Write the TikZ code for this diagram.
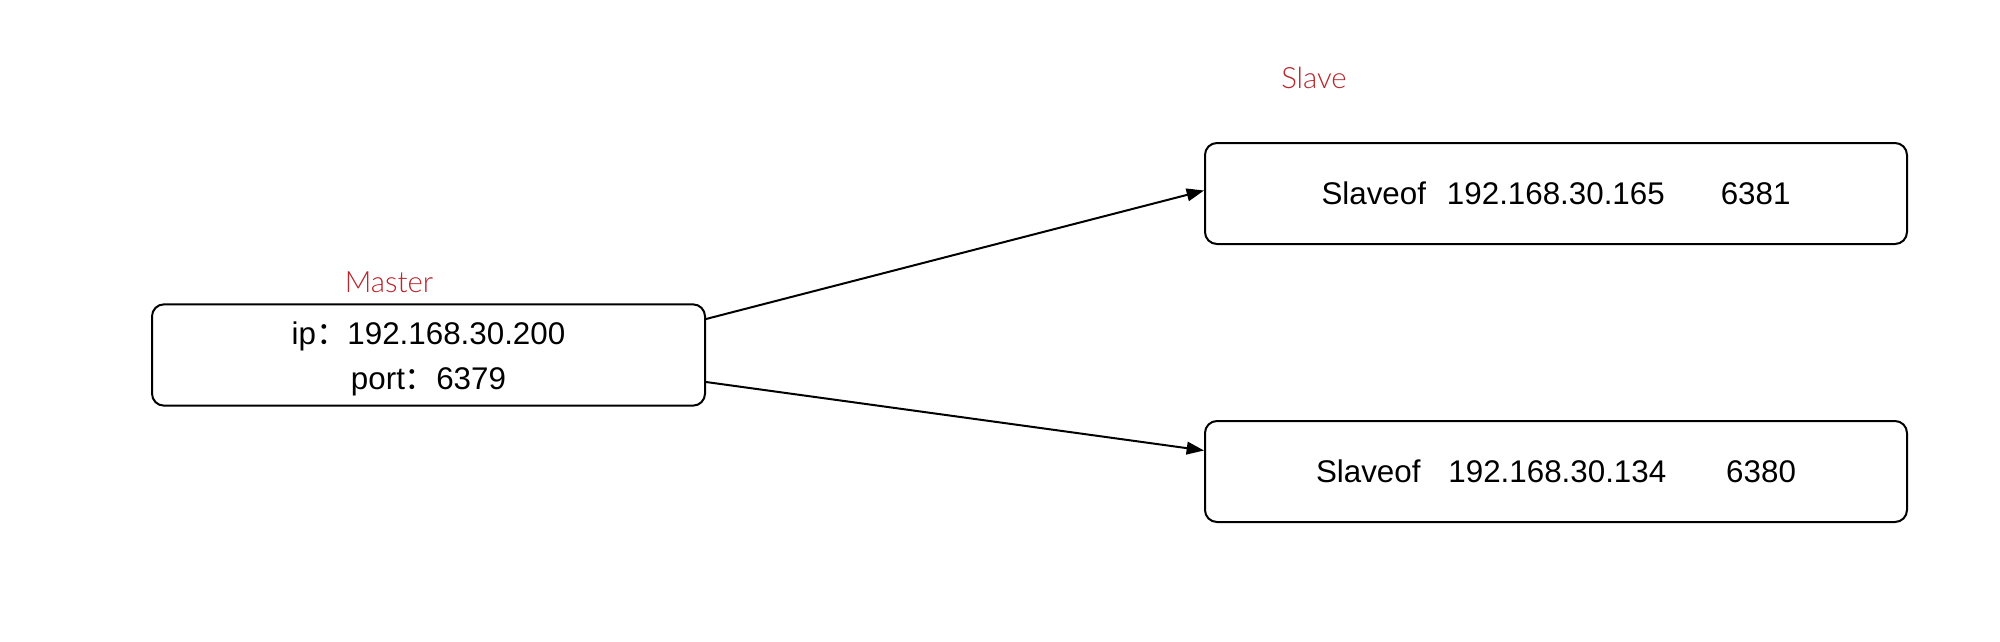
\documentclass[tikz,border=0pt]{standalone}
\usepackage{fontspec}
\setmainfont{Liberation Sans}
\newfontfamily\cjkfont{Noto Sans CJK SC}
\newfontfamily\lightfont[UprightFont={* Light}]{Lato}
\usetikzlibrary{arrows.meta,calc}
\definecolor{lblred}{RGB}{184,38,45}
\tikzset{
  box/.style={draw, line width=1.5pt, rounded corners=9pt, inner sep=0pt, align=center, font=\fontsize{23.5}{33.75}\selectfont},
  lbl/.style={text=lblred, font=\lightfont\fontsize{22}{24}\selectfont, inner sep=0pt},
  arr/.style={line width=1.5pt, -{Triangle[length=13pt,width=9.5pt]}}
}
\begin{document}
\begin{tikzpicture}[x=0.75pt,y=-0.75pt]
\useasboundingbox (0,0) rectangle (2000,642);
\node[box, minimum width=414.75pt, minimum height=76pt] (master) at (428.5,355) {};
\node[box, draw=none, minimum width=0pt, minimum height=0pt] (mtext) at (428.5,359)
  {ip{\cjkfont ：}192.168.30.200\\port{\cjkfont ：}6379};
\node[box, minimum width=526.5pt, minimum height=75.75pt] (s1) at (1556,193.5)
  {Slaveof\hspace{15.75pt}192.168.30.165\hspace{42pt}6381};
\node[box, minimum width=526.5pt, minimum height=75.75pt] (s2) at (1556,471.5)
  {Slaveof\hspace{21pt}192.168.30.134\hspace{45pt}6380};
\node[lbl] (mlbl) at (389,282) {Master};
\node[lbl] (slbl) at (1314,78) {Slave};
\draw[arr] ($(master.east)+(0,-36)$) -- ($(s1.west)+(0,-3)$);
\draw[arr] ($(master.east)+(0,27)$) -- ($(s2.west)+(0,-21)$);
\end{tikzpicture}
\end{document}
